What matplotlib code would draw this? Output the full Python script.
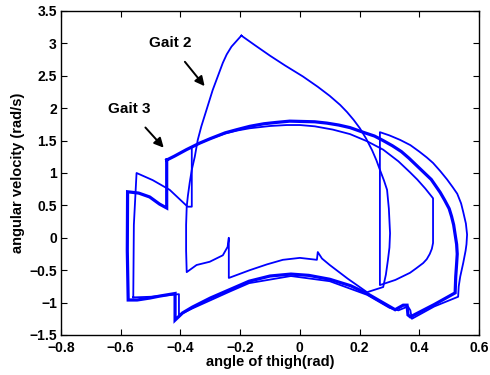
import matplotlib
matplotlib.use("Agg")
import matplotlib.pyplot as plt

# ---- data (angle rad, angular velocity rad/s) ----
# Gait 3: main thick limit cycle
g3_x = [-0.446, -0.42, -0.38, -0.336, -0.30, -0.25, -0.21, -0.168, -0.12, -0.08, -0.034, 0.05,
        0.09, 0.13, 0.168, 0.211, 0.25, 0.279, 0.31, 0.34, 0.365, 0.39, 0.415, 0.44, 0.47,
        0.485, 0.50, 0.508, 0.515, 0.52, 0.525, 0.527, 0.525, 0.522, 0.52,
        0.45, 0.37, 0.362, 0.359, 0.346, 0.319, 0.27, 0.225, 0.17, 0.10, 0.03, -0.03,
        -0.10, -0.17, -0.235, -0.30, -0.36, -0.393, -0.418, -0.418, -0.47, -0.503, -0.545,
        -0.575, -0.578, -0.577, -0.54, -0.503, -0.47, -0.446, -0.446]
g3_y = [1.20, 1.26, 1.36, 1.46, 1.53, 1.62, 1.67, 1.72, 1.76, 1.78, 1.80, 1.79,
        1.77, 1.74, 1.70, 1.63, 1.57, 1.50, 1.42, 1.33, 1.23, 1.12, 1.01, 0.90, 0.70,
        0.58, 0.45, 0.33, 0.20, 0.05, -0.10, -0.25, -0.40, -0.60, -0.85,
        -1.03, -1.22, -1.19, -1.04, -1.04, -1.11, -0.98, -0.86, -0.74, -0.64, -0.58, -0.56,
        -0.59, -0.67, -0.80, -0.93, -1.07, -1.16, -1.27, -0.86, -0.90, -0.93, -0.96,
        -0.96, -0.20, 0.71, 0.69, 0.63, 0.52, 0.46, 1.20]

# Gait 3: second strand (inner arc, right "D", outer arc)
g3b_x = [-0.558, -0.556, -0.547, -0.493, -0.436, -0.376, -0.362, -0.362, -0.33, -0.30, -0.25,
         -0.21, -0.168, -0.10, -0.044, 0.0, 0.05, 0.11, 0.168, 0.225, 0.279, 0.33, 0.369,
         0.393, 0.42, 0.446, 0.446, 0.442, 0.435, 0.425, 0.413, 0.39, 0.369, 0.32, 0.268,
         0.268, 0.30, 0.336, 0.37, 0.40, 0.425, 0.446, 0.47, 0.493, 0.512, 0.527, 0.54,
         0.547, 0.556, 0.56, 0.558, 0.555, 0.547, 0.537, 0.532, 0.53,
         0.45, 0.375, 0.37, 0.362, 0.33, 0.30, 0.225, 0.10,
         -0.03, -0.17, -0.235, -0.36, -0.40, -0.405, -0.405, -0.50, -0.558]
g3b_y = [-0.92, 0.20, 1.00, 0.89, 0.74, 0.48, 0.48, 1.40, 1.47, 1.53, 1.61,
         1.655, 1.69, 1.725, 1.74, 1.74, 1.72, 1.67, 1.60, 1.49, 1.36, 1.18, 1.01,
         0.90, 0.76, 0.61, -0.08, -0.17, -0.25, -0.33, -0.39, -0.47, -0.54, -0.65, -0.73,
         1.63, 1.58, 1.51, 1.43, 1.33, 1.24, 1.155, 1.03, 0.90, 0.78, 0.68, 0.53,
         0.40, 0.22, 0.05, -0.10, -0.20, -0.39, -0.60, -0.75, -0.91,
         -1.06, -1.25, -1.12, -1.06, -1.12, -1.08, -0.88, -0.67,
         -0.59, -0.70, -0.83, -1.09, -1.18, -1.22, -0.87, -0.91, -0.92]

# Gait 2: tall thin cycle
g2_x = [-0.196, -0.15, -0.10, -0.05, 0.01, 0.06, 0.10, 0.135, 0.158, 0.18, 0.201, 0.222,
        0.242, 0.256, 0.268, 0.282, 0.292, 0.298, 0.302, 0.300, 0.295, 0.288, 0.279,
        0.225, 0.16, 0.10, 0.074, 0.06, 0.057, 0.0, -0.057, -0.11, -0.168, -0.238, -0.238,
        -0.242, -0.258, -0.302, -0.346, -0.379, -0.381, -0.381, -0.379, -0.375, -0.369,
        -0.362, -0.352, -0.342, -0.33, -0.313, -0.292, -0.275, -0.258, -0.245, -0.229, -0.196]
g2_y = [3.12, 2.97, 2.81, 2.66, 2.49, 2.33, 2.19, 2.05, 1.94, 1.82, 1.69, 1.53,
        1.35, 1.20, 1.05, 0.88, 0.74, 0.45, 0.07, -0.15, -0.34, -0.57, -0.76,
        -0.84, -0.63, -0.42, -0.32, -0.22, -0.34, -0.31, -0.34, -0.41, -0.50, -0.62, 0.00,
        -0.14, -0.27, -0.37, -0.42, -0.53, -0.20, 0.20, 0.48, 0.65, 0.85,
        1.05, 1.25, 1.51, 1.72, 1.97, 2.28, 2.49, 2.70, 2.83, 2.95, 3.12]

xticks = [-0.8, -0.6, -0.4, -0.2, 0, 0.2, 0.4, 0.6]
xticklabels = ["\u22120.8", "\u22120.6", "\u22120.4", "\u22120.2", "0", "0.2", "0.4", "0.6"]
yticks = [-1.5, -1, -0.5, 0, 0.5, 1, 1.5, 2, 2.5, 3, 3.5]
yticklabels = ["\u22121.5", "\u22121", "\u22120.5", "0", "0.5", "1", "1.5", "2", "2.5", "3", "3.5"]

plt.rcParams['font.family'] = ['Liberation Sans', 'DejaVu Sans']
fig = plt.figure(figsize=(4.9, 3.75), dpi=100)
ax = fig.add_axes([0.1245, 0.1067, 0.8531, 0.864])

blue = (0, 0, 1)
ax.plot(g3_x, g3_y, color=blue, lw=2.3, solid_joinstyle='miter')
ax.plot(g3b_x, g3b_y, color=blue, lw=1.3)
ax.plot(g2_x, g2_y, color=blue, lw=1.3)

ax.set_xlim(-0.8, 0.6)
ax.set_ylim(-1.5, 3.5)
ax.set_xticks(xticks)
ax.set_xticklabels(xticklabels, fontweight='bold', fontsize=10)
ax.set_yticks(yticks)
ax.set_yticklabels(yticklabels, fontweight='bold', fontsize=10)
ax.tick_params(direction='in', top=True, right=True, length=4, width=0.8)
ax.tick_params(axis='x', pad=4)
ax.tick_params(axis='y', pad=3)
for s in ax.spines.values():
    s.set_linewidth(1.0)

ax.set_xlabel("angle of thigh(rad)", fontweight='bold', fontsize=10.5, labelpad=0)
ax.set_ylabel("angular velocity (rad/s)", fontweight='bold', fontsize=10.5, labelpad=3)

ax.annotate("Gait 2", xy=(-0.319, 2.34), xytext=(-0.435, 3.0), fontsize=11, fontweight='bold',
            ha='center', va='center',
            arrowprops=dict(arrowstyle='-|>', color='black', lw=1.4, mutation_scale=14,
                            shrinkA=8, shrinkB=0))
ax.annotate("Gait 3", xy=(-0.456, 1.39), xytext=(-0.572, 1.98), fontsize=11, fontweight='bold',
            ha='center', va='center',
            arrowprops=dict(arrowstyle='-|>', color='black', lw=1.4, mutation_scale=14,
                            shrinkA=8, shrinkB=0))

fig.savefig("out.png", dpi=100)
